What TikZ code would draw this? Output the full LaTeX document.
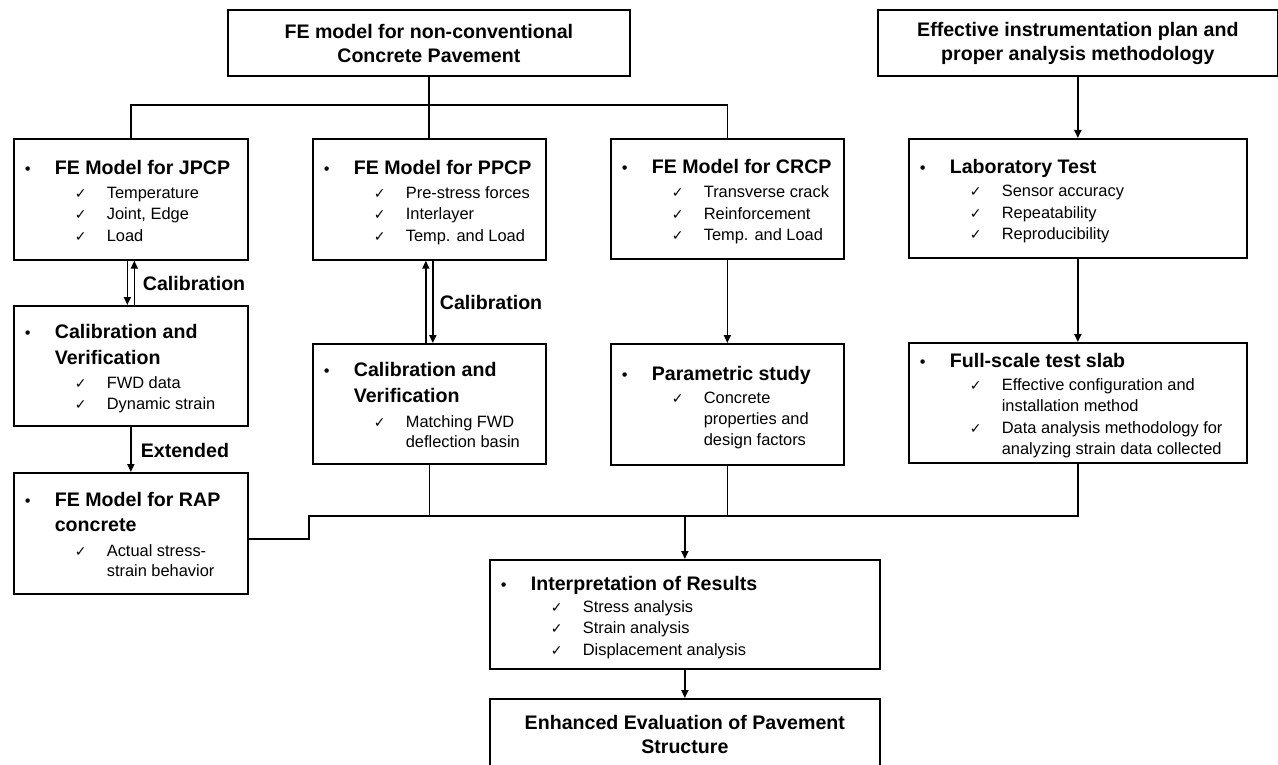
\documentclass[tikz,border=0pt]{standalone}
\usepackage{fontspec}
\setmainfont{Liberation Sans}
\newfontfamily\ckfam{DejaVu Sans}
\usetikzlibrary{arrows.meta}
\newcommand\tfont{\fontsize{19.6}{21.5}\selectfont\bfseries}
\newcommand\ifont{\fontsize{16.4}{21.5}\selectfont}
\newcommand\bhead[1]{\hspace*{11pt}\makebox[30pt][l]{\textbullet}{\tfont #1}}
\newcommand\bcont[1]{\hspace*{41pt}{\tfont #1}}
\newcommand\citem[1]{\hspace*{61pt}\makebox[32pt][l]{\ckfam\fontsize{14}{15}\selectfont ✓}#1}
\newcommand\ccont[1]{\hspace*{93pt}#1}
\newcommand\boxcontent[2]{\raisebox{-4pt}[\height][\depth]{\makebox[#1][l]{\ifont\begin{tabular}{@{}l@{}}#2\end{tabular}}}}
\begin{document}
\begin{tikzpicture}[x=1pt,y=-1pt,line width=1.7pt,
  box/.style={draw, rectangle, inner sep=0pt, anchor=north west},
  hdr/.style={box, align=center, font=\fontsize{19.6}{23.5}\selectfont\bfseries},
  arr/.style={-{Triangle[length=8pt,width=7pt]}},
  lbl/.style={font=\tfont, inner sep=0pt, anchor=west}]
\clip (0,0) rectangle (1278,765);

% top boxes
\node[hdr, minimum width=402pt, minimum height=66pt] (top1) at (227,9.5)
  {FE model for non-conventional\\Concrete Pavement};
\node[hdr, minimum width=400pt, minimum height=66pt] (top2) at (877,9.5)
  {Effective instrumentation plan and\\proper analysis methodology};

% first row
\node[box, minimum width=234pt, minimum height=121pt] (jpcp) at (13,138)
  {\boxcontent{234pt}{\bhead{FE Model for JPCP}\\[2.5pt] \citem{Temperature}\\ \citem{Joint, Edge}\\ \citem{Load}}};
\node[box, minimum width=233pt, minimum height=121pt] (ppcp) at (312,138)
  {\boxcontent{233pt}{\bhead{FE Model for PPCP}\\[2.5pt] \citem{Pre-stress forces}\\ \citem{Interlayer}\\ \citem{Temp. and Load}}};
\node[box, minimum width=233pt, minimum height=120pt] (crcp) at (610,138)
  {\boxcontent{233pt}{\bhead{FE Model for CRCP}\\[2.5pt] \citem{Transverse crack}\\ \citem{Reinforcement}\\ \citem{Temp. and Load}}};
\node[box, minimum width=338pt, minimum height=119pt] (lab) at (908,138)
  {\boxcontent{338pt}{\bhead{Laboratory Test}\\[1.5pt] \citem{Sensor accuracy}\\ \citem{Repeatability}\\ \citem{Reproducibility}}};

% second row
\node[box, minimum width=234pt, minimum height=120pt] (jcal) at (13,305)
  {\boxcontent{234pt}{\bhead{Calibration and}\\[4.5pt] \bcont{Verification}\\[2.5pt] \citem{FWD data}\\ \citem{Dynamic strain}}};
\node[box, minimum width=233pt, minimum height=120pt] (pcal) at (312,343)
  {\boxcontent{233pt}{\bhead{Calibration and}\\[4pt] \bcont{Verification}\\[3.5pt] \citem{Matching FWD}\\[-1.5pt] \ccont{deflection basin}}};
\node[box, minimum width=233pt, minimum height=121pt] (param) at (610,343)
  {\boxcontent{233pt}{\bhead{Parametric study}\\[1.5pt] \citem{Concrete}\\ \ccont{properties and}\\[-1pt] \ccont{design factors}}};
\node[box, minimum width=338pt, minimum height=120pt] (full) at (908,342)
  {\boxcontent{338pt}{\bhead{Full-scale test slab}\\[1.5pt] \citem{Effective configuration and}\\ \ccont{installation method}\\ \citem{Data analysis methodology for}\\ \ccont{analyzing strain data collected}}};

% RAP
\node[box, minimum width=234pt, minimum height=121pt] (rap) at (13,472)
  {\boxcontent{234pt}{\bhead{FE Model for RAP}\\[3.5pt] \bcont{concrete}\\[3.5pt] \citem{Actual stress-}\\[-1.5pt] \ccont{strain behavior}}};

% results
\node[box, minimum width=390pt, minimum height=109pt] (interp) at (489,559)
  {\boxcontent{390pt}{\bhead{Interpretation of Results}\\[0.5pt] \citem{Stress analysis}\\ \citem{Strain analysis}\\ \citem{Displacement analysis}}};
\node[hdr, minimum width=390pt, minimum height=71pt] (enh) at (489,698)
  {Enhanced Evaluation of Pavement\\Structure};

% labels
\node[lbl] (lcal1) at (142,283) {Calibration};
\node[lbl] (lcal2) at (439,302) {Calibration};
\node[lbl] (lext) at (140,450) {Extended};

% top tree
\coordinate (tbus) at (429,105);
\draw (top1.south) -- (top1.south |- ppcp.north);
\draw (jpcp.north) |- (crcp.north |- tbus) -- (crcp.north);
\draw[arr] (top2.south) -- (lab.north);

% vertical links
\draw[arr] ([xshift=-3.5pt]jpcp.south) -- ([xshift=-3.5pt]jpcp.south |- jcal.north);
\draw[arr] ([xshift=3.5pt]jcal.north) -- ([xshift=3.5pt]jcal.north |- jpcp.south);
\draw[arr] ([xshift=-3.5pt]pcal.north) -- ([xshift=-3.5pt]pcal.north |- ppcp.south);
\draw[arr] ([xshift=3.5pt]ppcp.south) -- ([xshift=3.5pt]ppcp.south |- pcal.north);
\draw[arr] (crcp.south) -- (param.north);
\draw[arr] (lab.south) -- (full.north);
\draw[arr] (jcal.south) -- (rap.north);

% bottom bus
\coordinate (bbus) at (309,516);
\draw ([yshift=-5.5pt]rap.east) -| (bbus) -- (full.south |- bbus) -- (full.south);
\draw (pcal.south) -- (pcal.south |- bbus);
\draw (param.south) -- (param.south |- bbus);
\draw[arr] (interp.north |- bbus) -- (interp.north);
\draw[arr] (interp.south) -- (enh.north);
\end{tikzpicture}
\end{document}
